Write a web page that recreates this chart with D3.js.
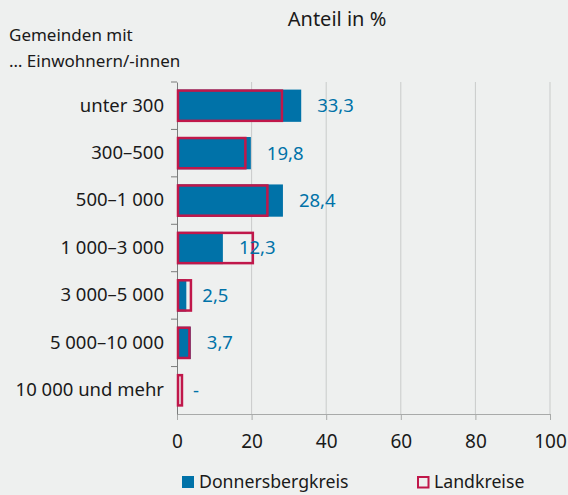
<!DOCTYPE html>
<html>
<head>
<meta charset="utf-8">
<script src="https://cdn.jsdelivr.net/npm/d3@7"></script>
<style>
  html, body { margin: 0; padding: 0; background: #eef0ef; }
  svg { display: block; font-family: "Noto Sans", sans-serif; }
</style>
</head>
<body>
<div id="chart"></div>
<script>
const categories = ["unter 300", "300–500", "500–1 000", "1 000–3 000", "3 000–5 000", "5 000–10 000", "10 000 und mehr"];
const donnersberg = [33.3, 19.8, 28.4, 12.3, 2.5, 3.7, 0];
const donnersbergLabels = ["33,3", "19,8", "28,4", "12,3", "2,5", "3,7", "-"];
const landkreise = [28.4, 18.6, 24.5, 20.6, 4.0, 3.6, 1.6];
const xTicks = [0, 20, 40, 60, 80, 100];

const width = 568, height = 495;
const margin = { top: 82, right: 18, bottom: 81, left: 177 };
const blue = "#0072a8", red = "#c0174a", ink = "#1a1a1a";

const svg = d3.select("#chart").append("svg")
  .attr("width", width).attr("height", height)
  .style("background", "#eef0ef");

const x = d3.scaleLinear().domain([0, 100]).range([margin.left, width - margin.right]);
const y = d3.scaleBand().domain(categories)
  .range([margin.top, height - margin.bottom])
  .paddingInner(0.32).paddingOuter(0.16);

// gridlines
svg.append("g")
  .selectAll("line")
  .data(xTicks.slice(1))
  .join("line")
  .attr("x1", (d) => x(d)).attr("x2", (d) => x(d))
  .attr("y1", margin.top).attr("y2", height - margin.bottom)
  .attr("stroke", "#c9cbca").attr("stroke-width", 1);

// x axis
const xAxis = svg.append("g")
  .attr("transform", `translate(0,${height - margin.bottom})`)
  .call(d3.axisBottom(x).tickValues(xTicks).tickSize(6).tickPadding(15).tickFormat(d3.format("d")));
xAxis.select(".domain").attr("stroke", "#a8aaa9");
xAxis.selectAll(".tick line").attr("stroke", "#a8aaa9");
xAxis.selectAll("text").attr("fill", ink).style("font-size", "19px").style("font-family", "Noto Sans");

// y axis
const yAxis = svg.append("g")
  .attr("transform", `translate(${margin.left},0)`)
  .call(d3.axisLeft(y).tickSize(0).tickPadding(13));
yAxis.select(".domain").attr("stroke", "#7a7c7b");
yAxis.selectAll("text").attr("fill", ink).style("font-size", "18.5px").style("font-family", "Noto Sans");

// separator ticks between categories
const step = y.step();
const sepY = (i) => margin.top + y.paddingOuter() * step - y.paddingInner() * step / 2 + i * step
  - (i === 0 ? y.paddingOuter() * step - y.paddingInner() * step / 2 : 0);
svg.append("g")
  .selectAll("line")
  .data(categories)
  .join("line")
  .attr("x1", margin.left - 6).attr("x2", margin.left)
  .attr("y1", (d, i) => sepY(i))
  .attr("y2", (d, i) => sepY(i))
  .attr("stroke", "#7a7c7b");

// Donnersbergkreis bars
svg.append("g")
  .selectAll("rect")
  .data(categories)
  .join("rect")
  .attr("x", x(0))
  .attr("y", (d) => y(d))
  .attr("width", (d, i) => x(donnersberg[i]) - x(0))
  .attr("height", y.bandwidth())
  .attr("fill", blue);

// Landkreise outlines
svg.append("g")
  .selectAll("rect")
  .data(categories)
  .join("rect")
  .attr("x", x(0) + 1)
  .attr("y", (d) => y(d) + 1)
  .attr("width", (d, i) => x(landkreise[i]) - x(0) - 2)
  .attr("height", y.bandwidth() - 2)
  .attr("fill", "none")
  .attr("stroke", red)
  .attr("stroke-width", 2.5);

// value labels
svg.append("g")
  .selectAll("text")
  .data(categories)
  .join("text")
  .attr("x", (d, i) => x(donnersberg[i]) + 16)
  .attr("y", (d) => y(d) + y.bandwidth() / 2)
  .attr("dy", "0.35em")
  .attr("fill", blue)
  .style("font-size", "18.5px")
  .text((d, i) => donnersbergLabels[i]);

// titles
svg.append("text")
  .attr("x", 337).attr("y", 26)
  .attr("text-anchor", "middle")
  .attr("fill", ink)
  .style("font-size", "20px")
  .text("Anteil in %");

svg.append("text")
  .attr("x", 9).attr("y", 41)
  .attr("fill", ink)
  .style("font-size", "17px")
  .text("Gemeinden mit");
svg.append("text")
  .attr("x", 9).attr("y", 67)
  .attr("fill", ink)
  .style("font-size", "17px")
  .text("… Einwohnern/-innen");

// legend
const legend = svg.append("g").attr("transform", "translate(0,476)");
legend.append("rect").attr("x", 182).attr("y", 0).attr("width", 12).attr("height", 12).attr("fill", blue);
legend.append("text").attr("x", 199).attr("y", 12).attr("fill", ink).style("font-size", "17.7px").text("Donnersbergkreis");
legend.append("rect").attr("x", 418).attr("y", 1).attr("width", 10.5).attr("height", 10.5)
  .attr("fill", "none").attr("stroke", red).attr("stroke-width", 2);
legend.append("text").attr("x", 434).attr("y", 12).attr("fill", ink).style("font-size", "17.7px").text("Landkreise");
</script>
</body>
</html>
